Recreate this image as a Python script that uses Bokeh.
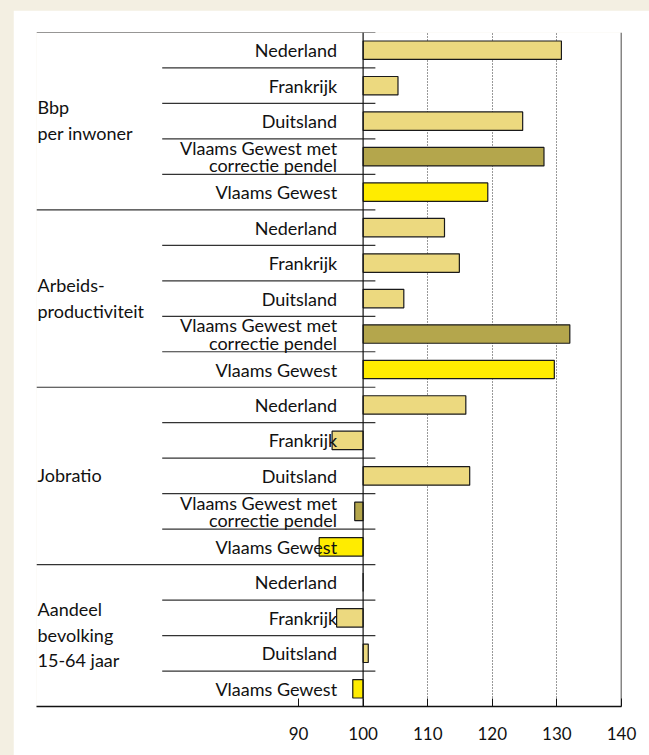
from bokeh.plotting import figure
from bokeh.models import Range1d, LinearAxis, FixedTicker, Span, Grid, ColumnDataSource
from bokeh.core.properties import value
from bokeh.embed import file_html
from bokeh.resources import INLINE

# ---- data ----
group_labels = ["Bbp\nper inwoner", "Arbeids-\nproductiviteit", "Jobratio",
                "Aandeel\nbevolking\n15-64 jaar"]
cats_g1 = ["Nederland", "Frankrijk", "Duitsland", "Vlaams Gewest met\ncorrectie pendel", "Vlaams Gewest"]
cats_g2 = ["Nederland", "Frankrijk", "Duitsland", "Vlaams Gewest met\ncorrectie pendel", "Vlaams Gewest"]
cats_g3 = ["Nederland", "Frankrijk", "Duitsland", "Vlaams Gewest met\ncorrectie pendel", "Vlaams Gewest"]
cats_g4 = ["Nederland", "Frankrijk", "Duitsland", "Vlaams Gewest"]
vals_g1 = [130.7, 105.4, 124.7, 128.0, 119.3]
vals_g2 = [112.6, 114.9, 106.3, 132.0, 129.6]
vals_g3 = [115.9, 95.2, 116.5, 98.7, 93.2]
vals_g4 = [100.0, 95.9, 100.8, 98.4]
kind_g1 = ["land", "land", "land", "corr", "vg"]
kind_g2 = ["land", "land", "land", "corr", "vg"]
kind_g3 = ["land", "land", "land", "corr", "vg"]
kind_g4 = ["land", "land", "land", "vg"]
base = 100
tick_values = [90, 100, 110, 120, 130, 140]
grid_values = [110, 120, 130]

colors = {"land": "#ecd97f", "corr": "#b4a64c", "vg": "#ffec00"}
FONT = value("Lato")

groups = [(cats_g1, vals_g1, kind_g1), (cats_g2, vals_g2, kind_g2),
          (cats_g3, vals_g3, kind_g3), (cats_g4, vals_g4, kind_g4)]
n_rows = sum(len(g[0]) for g in groups)

# build rows
ys, lefts, rights, fills, labels = [], [], [], [], []
group_y, group_bounds, inner_bounds = [], [], []
row = 0
for cats, vals, kinds in groups:
    start = row
    group_bounds.append(n_rows - start)
    for c, v, k in zip(cats, vals, kinds):
        y = n_rows - row - 0.5
        ys.append(y)
        lefts.append(min(v, base))
        rights.append(max(v, base))
        fills.append(colors[k])
        labels.append(c)
        if row > start:
            inner_bounds.append(n_rows - row)
        row += 1
    group_y.append(n_rows - (start + row) / 2)

XL, XR = 49.44, 140
p = figure(width=636, height=745, output_backend="svg", toolbar_location=None,
           x_range=Range1d(XL, XR), y_range=Range1d(0, n_rows),
           x_axis_location=None, y_axis_location=None,
           min_border_left=23, min_border_right=28, min_border_top=22, min_border_bottom=49)
p.styles = {"margin-left": "13px", "margin-top": "10px"}
p.outline_line_color = None
p.background_fill_color = "white"
p.border_fill_color = "white"
p.xgrid.visible = False
p.ygrid.visible = False

grid = Grid(dimension=0, ticker=FixedTicker(ticks=grid_values),
            grid_line_color="#333333", grid_line_dash="1 2", grid_line_width=1)
p.add_layout(grid)

# separator lines
SEP_R = 101.9
p.segment(x0=[XL] * len(group_bounds), x1=[SEP_R] * len(group_bounds),
          y0=group_bounds, y1=group_bounds, line_color="#333333", line_width=1.2)
p.segment(x0=[68.9] * len(inner_bounds), x1=[SEP_R] * len(inner_bounds),
          y0=inner_bounds, y1=inner_bounds, line_color="#333333", line_width=1.2)

src = ColumnDataSource(dict(y=ys, left=lefts, right=rights, fill=fills, label=labels))
p.hbar(y="y", left="left", right="right", height=0.52, fill_color="fill",
       line_color="#1a1a1a", line_width=1.2, source=src)

p.add_layout(Span(location=base, dimension="height", line_color="#111111", line_width=1.2))
p.add_layout(Span(location=XR, dimension="height", line_color="#111111", line_width=1.5))

p.text(x=base, y="y", text="label", source=src, x_offset=-26,
       text_align="right", text_baseline="middle", text_font=FONT,
       text_font_size="18px", text_color="#111111", text_line_height=0.78)

p.text(x=[XL] * len(group_labels), y=group_y, text=group_labels, x_offset=1, y_offset=-1,
       text_align="left", text_baseline="middle", text_font=FONT,
       text_font_size="18px", text_color="#111111", text_line_height=1.18)

xaxis = LinearAxis(ticker=FixedTicker(ticks=tick_values))
xaxis.major_tick_in = 8
xaxis.major_tick_out = 0
xaxis.minor_tick_line_color = None
xaxis.axis_line_color = "#111111"
xaxis.axis_line_width = 1.5
xaxis.major_tick_line_color = "#111111"
xaxis.major_label_standoff = 20
xaxis.major_label_text_font = "Lato"
xaxis.major_label_text_font_size = "17px"
xaxis.major_label_text_color = "#111111"
p.add_layout(xaxis, "below")

html = file_html(p, INLINE)
html = html.replace("</head>",
                    "<style>html, body { background-color: #f3efe2 !important; overflow: hidden; }</style>\n</head>", 1)
open("out.html", "w").write(html)
